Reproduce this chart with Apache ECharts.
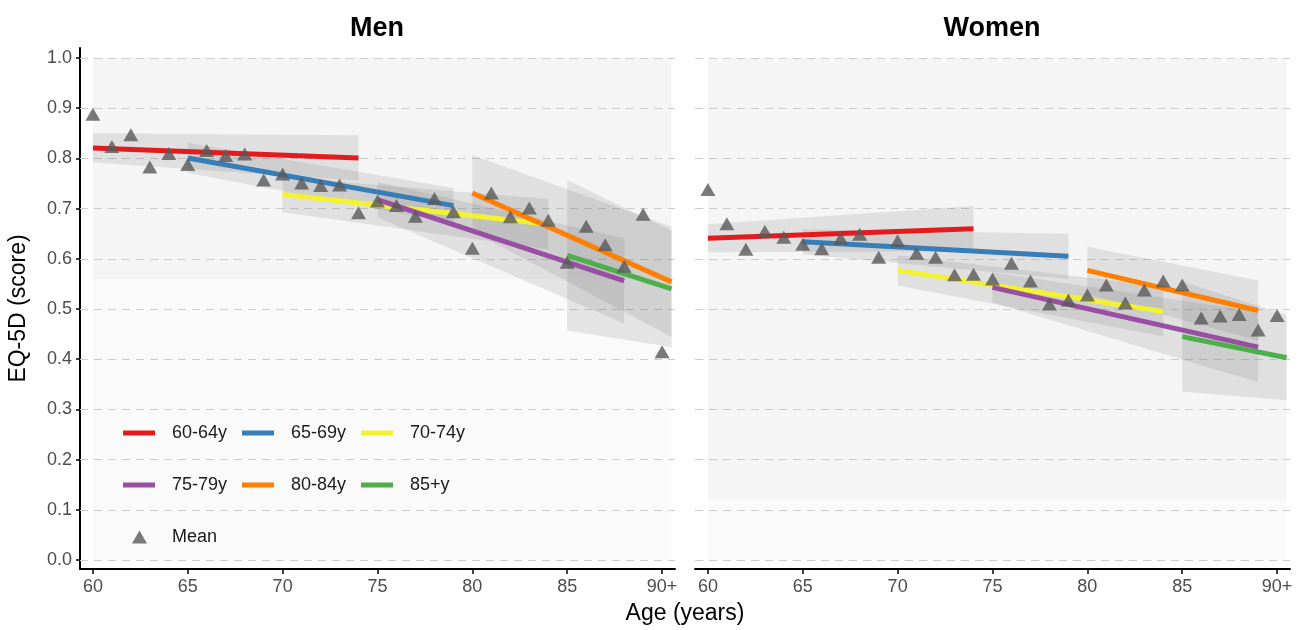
<!DOCTYPE html>
<html>
<head>
<meta charset="utf-8">
<script src="https://cdn.jsdelivr.net/npm/echarts@6/dist/echarts.min.js"></script>
<style>html,body{margin:0;padding:0;background:#fff}#c{width:1301px;height:630px}</style>
</head>
<body>
<div id="c"></div>
<script>
// ---------- data ----------
const ages = [60,61,62,63,64,65,66,67,68,69,70,71,72,73,74,75,76,77,78,79,80,81,82,83,84,85,86,87,88,89,90];
const menMean = [0.888,0.824,0.847,0.783,0.810,0.788,0.816,0.806,0.809,0.757,0.769,0.751,0.746,0.747,0.692,0.715,0.706,0.685,0.720,0.694,0.621,0.731,0.684,0.701,0.677,0.593,0.665,0.628,0.585,0.689,0.415];
const womenMean = [0.738,0.670,0.619,0.655,0.643,0.629,0.620,0.641,0.649,0.603,0.636,0.611,0.603,0.568,0.569,0.560,0.591,0.556,0.510,0.518,0.528,0.548,0.512,0.538,0.556,0.548,0.482,0.486,0.489,0.458,0.487];

const cohorts = ['60-64y','65-69y','70-74y','75-79y','80-84y','85+y'];
const cohortColors = ['#E41A1C','#377EB8','#F2F230','#984EA3','#FF7F00','#4DAF4A'];
const cohortStart = [60,65,70,75,80,85];

// Men fitted lines
const menEnd = [74,79,84,88,90.5,90.5];
const menFitStart = [0.821,0.801,0.728,0.718,0.731,0.607];
const menFitEnd = [0.801,0.706,0.669,0.556,0.554,0.540];
const menLoStart = [0.792,0.771,0.693,0.683,0.655,0.457];
const menHiStart = [0.850,0.831,0.763,0.753,0.807,0.757];
const menLoEnd = [0.756,0.671,0.619,0.471,0.444,0.424];
const menHiEnd = [0.846,0.741,0.719,0.641,0.664,0.656];

// Women fitted lines
const womenEnd = [74,79,84,89,89,90.5];
const womenFitStart = [0.641,0.634,0.577,0.543,0.577,0.445];
const womenFitEnd = [0.660,0.605,0.495,0.424,0.497,0.403];
const womenLoStart = [0.613,0.609,0.547,0.513,0.530,0.335];
const womenHiStart = [0.669,0.659,0.607,0.573,0.624,0.555];
const womenLoEnd = [0.615,0.560,0.445,0.354,0.437,0.318];
const womenHiEnd = [0.705,0.650,0.545,0.494,0.557,0.488];

const yTicks = [0,0.1,0.2,0.3,0.4,0.5,0.6,0.7,0.8,0.9,1.0];
const xTicks = [60,65,70,75,80,85,90];
const xTickLabels = ['60','65','70','75','80','85','90+'];

// ---------- chart ----------
const FONT = "'Liberation Sans', Arial, Helvetica, sans-serif";
const chart = echarts.init(document.getElementById('c'), null, {renderer:'canvas'});

function xAxisDef(gi){
  return {
    type:'value', gridIndex:gi, min:59.32, max:90.68,
    axisLine:{show:true, onZero:false, lineStyle:{color:'#000', width:2}},
    axisTick:{show:true, length:5, lineStyle:{color:'#000', width:1.5}, customValues:xTicks},
    axisLabel:{show:true, margin:9, fontSize:18, color:'#4d4d4d', fontFamily:FONT,
      customValues:xTicks, formatter:v=>xTickLabels[xTicks.indexOf(v)] ?? ''},
    splitLine:{show:false}
  };
}
function yAxisDef(gi, show){
  return {
    type:'value', gridIndex:gi, min:-0.018, max:1.02,
    axisLine:{show:show, lineStyle:{color:'#000', width:2}},
    axisTick:{show:show, length:4, lineStyle:{color:'#000', width:1.5}, customValues:yTicks},
    axisLabel:{show:show, margin:8, fontSize:18, color:'#4d4d4d', fontFamily:FONT,
      customValues:yTicks, formatter:v=>v.toFixed(1)},
    splitLine:{show:false},
    name: show ? 'EQ-5D (score)' : '',
    nameLocation:'middle', nameGap:50,
    nameTextStyle:{fontSize:23, color:'#000', fontFamily:FONT}
  };
}

function bgSeries(gi, dense){
  return {
    type:'line', xAxisIndex:gi, yAxisIndex:gi, data:[], silent:true, z:0,
    markArea:{silent:true, z:0, itemStyle:{color:'rgba(0,0,0,0.04)'}, data:dense},
    markLine:{silent:true, symbol:'none', label:{show:false}, z:1,
      lineStyle:{color:'#cccccc', width:1, type:[8,6]},
      data: yTicks.map(v=>({yAxis:v}))}
  };
}

function bandSeries(gi, start, end, lo0, hi0, lo1, hi1){
  return {
    type:'custom', xAxisIndex:gi, yAxisIndex:gi, silent:true, z:2,
    encode:{x:[0,3], y:[1,2,4,5]},
    data: start.map((s,i)=>[s, lo0[i], hi0[i], end[i], lo1[i], hi1[i]]),
    renderItem:(params, api)=>{
      const pts = [
        api.coord([api.value(0), api.value(1)]),
        api.coord([api.value(3), api.value(4)]),
        api.coord([api.value(3), api.value(5)]),
        api.coord([api.value(0), api.value(2)])
      ];
      return {type:'polygon', shape:{points:pts}, style:{fill:'rgba(100,100,100,0.14)'}};
    }
  };
}

function lineSeries(gi, end, f0, f1){
  return cohorts.map((name,i)=>({
    type:'line', name:name, xAxisIndex:gi, yAxisIndex:gi, z:3,
    color:cohortColors[i], showSymbol:false, symbol:'none',
    lineStyle:{width:5, color:cohortColors[i]},
    data:[[cohortStart[i], f0[i]], [end[i], f1[i]]]
  }));
}

function meanSeries(gi, vals){
  return {
    type:'scatter', name:'Mean', xAxisIndex:gi, yAxisIndex:gi, z:4,
    symbol:'triangle', symbolSize:[15,13], color:'#595959',
    itemStyle:{color:'#595959'},
    data: ages.map((a,i)=>[a, vals[i]])
  };
}

const legendCommon = {
  orient:'vertical', itemWidth:32, itemHeight:5, itemGap:32, icon:'rect', padding:0,
  textStyle:{fontSize:18, color:'#1a1a1a', fontFamily:FONT, lineHeight:20, padding:[0,0,0,12]},
  selectedMode:false
};

const option = {
  backgroundColor:'#fff',
  animation:false,
  grid:[
    {left:80, top:48, width:595, height:521},
    {left:695, top:48, width:595, height:521}
  ],
  title:[
    {text:'Men', left:377, top:15, padding:0, textAlign:'center', textStyle:{fontSize:27, fontWeight:'bold', color:'#000', fontFamily:FONT}},
    {text:'Women', left:992, top:15, padding:0, textAlign:'center', textStyle:{fontSize:27, fontWeight:'bold', color:'#000', fontFamily:FONT}},
    {text:'Age (years)', left:685, top:602, padding:0, textAlign:'center', textStyle:{fontSize:23, fontWeight:'normal', color:'#000', fontFamily:FONT}}
  ],
  legend:[
    Object.assign({}, legendCommon, {left:123, top:423, data:['60-64y','75-79y']}),
    Object.assign({}, legendCommon, {left:242, top:423, data:['65-69y','80-84y']}),
    Object.assign({}, legendCommon, {left:361, top:423, data:['70-74y','85+y']}),
    {orient:'vertical', left:132, top:527, padding:0, itemWidth:15, itemHeight:13, icon:'triangle', selectedMode:false,
     textStyle:{fontSize:18, color:'#1a1a1a', fontFamily:FONT, lineHeight:20, padding:[0,0,0,20]},
     data:['Mean']}
  ],
  xAxis:[xAxisDef(0), xAxisDef(1)],
  yAxis:[yAxisDef(0,true), yAxisDef(1,false)],
  series:[
    bgSeries(0, [
      [{xAxis:60, yAxis:0.56},{xAxis:90.5, yAxis:1.0}],
      [{xAxis:60, yAxis:0.0, itemStyle:{color:'rgba(0,0,0,0.02)'}},{xAxis:90.5, yAxis:0.56}]
    ]),
    bgSeries(1, [
      [{xAxis:60, yAxis:0.12},{xAxis:90.5, yAxis:1.0}],
      [{xAxis:60, yAxis:0.0, itemStyle:{color:'rgba(0,0,0,0.02)'}},{xAxis:90.5, yAxis:0.12}]
    ]),
    bandSeries(0, cohortStart, menEnd, menLoStart, menHiStart, menLoEnd, menHiEnd),
    bandSeries(1, cohortStart, womenEnd, womenLoStart, womenHiStart, womenLoEnd, womenHiEnd),
    ...lineSeries(0, menEnd, menFitStart, menFitEnd),
    ...lineSeries(1, womenEnd, womenFitStart, womenFitEnd),
    meanSeries(0, menMean),
    meanSeries(1, womenMean)
  ]
};
chart.setOption(option);
</script>
</body>
</html>
